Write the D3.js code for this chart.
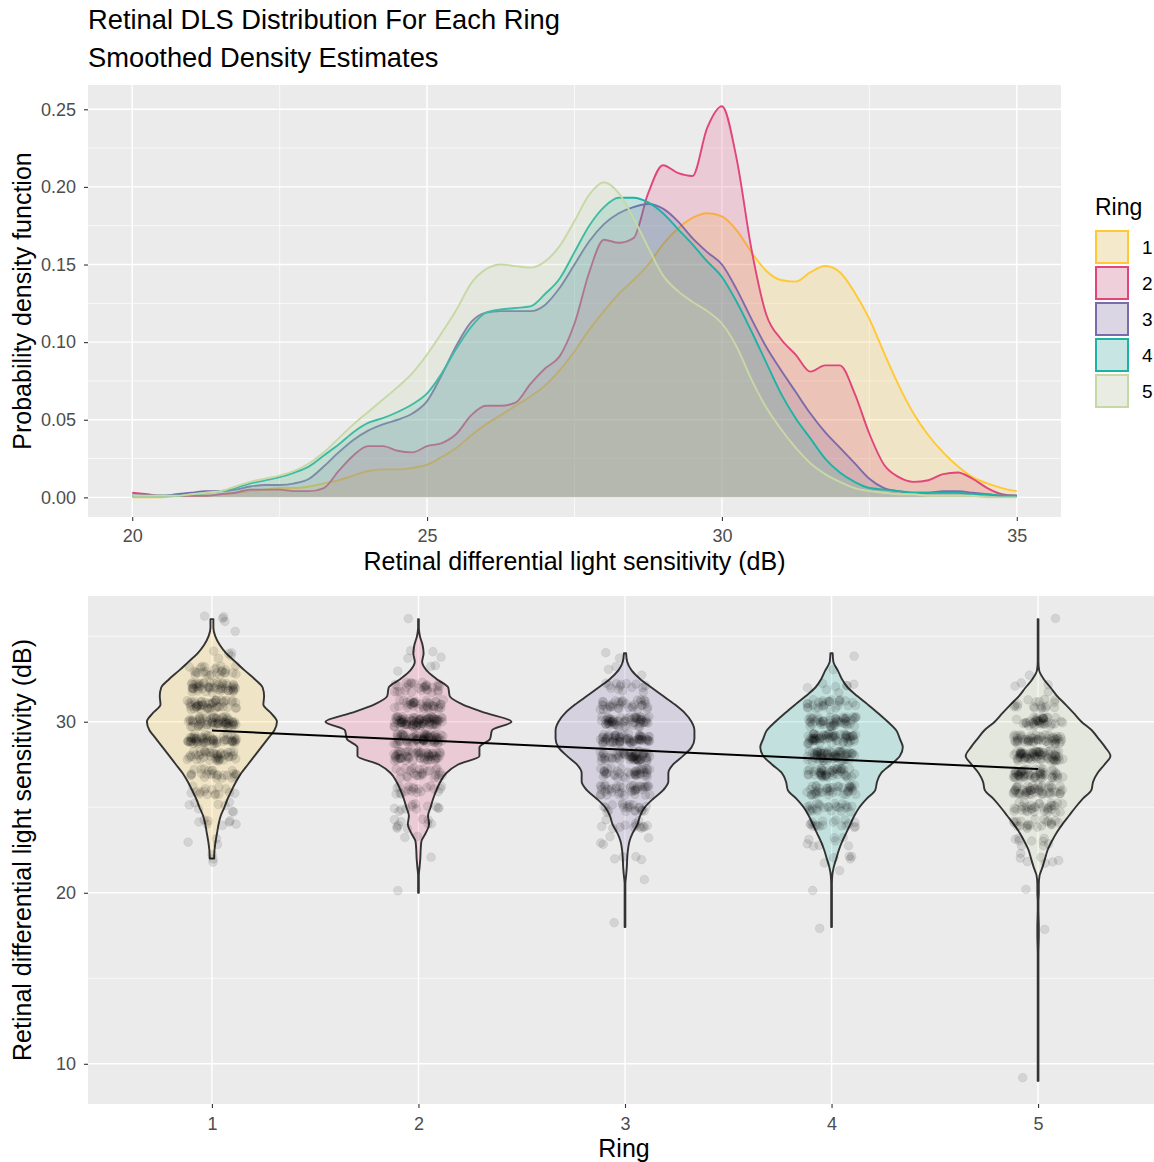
<!DOCTYPE html>
<html><head><meta charset="utf-8">
<script src="https://cdn.jsdelivr.net/npm/d3@7"></script>
<style>
html,body{margin:0;padding:0;background:#fff;}
svg text{font-family:"Liberation Sans",Arial,sans-serif;}
</style></head>
<body><svg id="chart" width="1154" height="1162"></svg>
<script>
// ---------------- DATA ----------------
const rings = [1, 2, 3, 4, 5];
const ringColors = ["#FFC933", "#E0457B", "#7C6BAA", "#1CB3A5", "#C6D9A5"];

// Top panel: smoothed density estimates per ring on a dB grid
const densityX = [20,20.25,20.5,20.75,21,21.25,21.5,21.75,22,22.25,22.5,22.75,23,23.25,23.5,23.75,24,24.25,24.5,24.75,
  25,25.25,25.5,25.75,26,26.25,26.5,26.75,27,27.25,27.5,27.75,28,28.25,28.5,28.75,29,29.25,29.5,29.75,
  30,30.25,30.5,30.75,31,31.25,31.5,31.75,32,32.25,32.5,32.75,33,33.25,33.5,33.75,34,34.25,34.5,34.75,35];
const density1 = [0.000,0.000,0.000,0.001,0.001,0.001,0.002,0.003,0.004,0.005,
  0.006,0.006,0.007,0.009,0.011,0.014,0.017,0.018,0.018,0.019,
  0.021,0.026,0.032,0.040,0.047,0.053,0.059,0.065,0.072,0.082,
  0.094,0.108,0.120,0.131,0.140,0.150,0.163,0.173,0.180,0.183,
  0.181,0.172,0.158,0.146,0.140,0.139,0.145,0.149,0.145,0.132,
  0.115,0.093,0.072,0.054,0.040,0.029,0.020,0.013,0.009,0.006,0.004];
const density2 = [0.003,0.002,0.001,0.001,0.001,0.001,0.002,0.003,0.005,0.005,
  0.005,0.004,0.004,0.006,0.017,0.027,0.033,0.033,0.030,0.029,
  0.033,0.035,0.041,0.053,0.059,0.059,0.061,0.073,0.083,0.091,
  0.112,0.145,0.166,0.164,0.167,0.196,0.214,0.209,0.207,0.238,
  0.252,0.218,0.160,0.118,0.102,0.092,0.081,0.085,0.085,0.067,
  0.041,0.021,0.013,0.010,0.011,0.015,0.016,0.012,0.006,0.002,0.001];
const density3 = [0.001,0.001,0.001,0.002,0.003,0.004,0.004,0.005,0.007,0.008,
  0.008,0.009,0.012,0.020,0.029,0.037,0.043,0.047,0.050,0.054,
  0.062,0.079,0.098,0.113,0.119,0.120,0.120,0.120,0.124,0.135,
  0.150,0.165,0.176,0.183,0.187,0.189,0.186,0.178,0.167,0.158,
  0.150,0.134,0.115,0.097,0.082,0.068,0.054,0.042,0.032,0.022,
  0.012,0.006,0.004,0.003,0.003,0.004,0.004,0.003,0.002,0.001,0.001];
const density4 = [0.001,0.001,0.001,0.001,0.002,0.003,0.004,0.006,0.009,0.011,
  0.013,0.016,0.020,0.027,0.034,0.042,0.048,0.051,0.055,0.060,
  0.067,0.080,0.096,0.110,0.119,0.121,0.122,0.123,0.131,0.141,
  0.158,0.175,0.187,0.193,0.193,0.190,0.183,0.173,0.163,0.152,
  0.142,0.126,0.107,0.087,0.067,0.051,0.038,0.025,0.016,0.010,
  0.006,0.005,0.004,0.003,0.003,0.003,0.003,0.002,0.002,0.001,0.001];
const density5 = [0.001,0.001,0.001,0.001,0.002,0.003,0.004,0.007,0.010,0.012,
  0.014,0.017,0.022,0.029,0.038,0.047,0.055,0.063,0.071,0.080,
  0.092,0.106,0.121,0.138,0.147,0.150,0.149,0.148,0.152,0.162,
  0.178,0.195,0.203,0.196,0.180,0.161,0.143,0.133,0.126,0.120,
  0.112,0.097,0.076,0.058,0.044,0.032,0.022,0.015,0.010,0.006,
  0.004,0.003,0.002,0.002,0.001,0.001,0.001,0.001,0.000,0.000,0.000];
const densities = [density1, density2, density3, density4, density5];

const densityXTicks = [20, 25, 30, 35];
const densityYTicks = [0.00, 0.05, 0.10, 0.15, 0.20, 0.25];

// Bottom panel: violin profiles (density per dB level, trimmed to each ring's range)
const violinGrid = [9,9.5,10,10.5,11,11.5,12,12.5,13,13.5,14,14.5,15,15.5,16,16.5,17,17.5,18,18.5,19,19.5,
  20,20.5,21,21.5,22,22.5,23,23.5,24,24.5,25,25.5,26,26.5,27,27.5,28,28.5,29,29.5,
  30,30.5,31,31.5,32,32.5,33,33.5,34,34.5,35,35.5,36];
const violinStart = [22, 20, 18, 18, 9];
const violin1 = [0.006,0.007,0.010,0.014,0.018,0.024,0.034,0.043,0.054,0.066,0.080,0.098,0.116,0.134,
  0.152,0.170,0.177,0.161,0.140,0.142,0.138,0.116,0.089,0.064,0.039,0.021,0.009,0.004,0.004];
const violin2 = [0.001,0.001,0.001,0.003,0.005,0.006,0.008,0.020,0.029,0.026,0.033,0.040,0.049,0.060,
  0.076,0.108,0.166,0.166,0.195,0.200,0.253,0.185,0.121,0.085,0.081,0.049,0.022,0.010,0.014,0.011,
  0.004,0.001,0.001];
const violin3 = [0.001,0.001,0.001,0.001,0.001,0.001,0.003,0.005,0.006,0.008,0.012,0.021,0.034,0.041,
  0.054,0.077,0.104,0.118,0.118,0.131,0.158,0.181,0.189,0.189,0.181,0.163,0.136,0.104,0.072,0.041,
  0.018,0.006,0.003];
const violin4 = [0.001,0.001,0.001,0.001,0.001,0.001,0.002,0.006,0.013,0.020,0.029,0.040,0.051,0.062,
  0.076,0.096,0.119,0.124,0.135,0.162,0.186,0.194,0.186,0.176,0.153,0.127,0.099,0.070,0.044,0.028,
  0.017,0.005,0.003];
const violin5 = [0.001,0.001,0.001,0.001,0.001,0.001,0.001,0.001,0.001,0.001,0.001,0.001,0.001,0.001,0.001,0.001,
  0.0015,0.002,0.002,0.0015,0.001,0.001,0.002,0.002,
  0.004,0.012,0.019,0.026,0.037,0.050,0.066,0.084,0.102,0.122,0.145,0.150,0.162,0.181,0.197,0.183,
  0.165,0.146,0.118,0.097,0.075,0.052,0.034,0.015,0.003,0.001,0.001,0.001,0.001,0.001,0.001];
const violins = [violin1, violin2, violin3, violin4, violin5];

// Observations: number of test points at each DLS level per ring
const dlsLevels = [9,10,11,12,13,14,15,16,17,18,19,20,21,22,23,24,25,26,27,28,29,30,31,32,33,34,35,36];
const ring1Counts = [0,0,0,0,0,0,0,0,0,0,0,0,0,3,3,8,8,16,26,44,60,66,50,52,26,5,1,4];
const ring2Counts = [0,0,0,0,0,0,0,0,0,0,0,1,0,1,2,10,12,20,28,60,76,90,40,30,3,4,0,1];
const ring3Counts = [0,0,0,0,0,0,0,0,0,1,0,0,1,4,4,14,22,42,42,64,68,60,36,14,3,2,0,0];
const ring4Counts = [0,0,0,0,0,0,0,0,0,1,0,1,1,5,8,18,26,42,48,68,66,52,28,8,1,1,0,0];
const ring5Counts = [1,0,0,0,0,0,0,0,0,1,0,1,0,7,9,22,34,52,56,74,54,40,18,4,1,0,0,1];
const ringCounts = [ring1Counts, ring2Counts, ring3Counts, ring4Counts, ring5Counts];

// Linear trend (fitted DLS at the first and last ring)
const trendRings = [1, 5];
const trendValues = [29.49, 27.24];

const violinYTicks = [10, 20, 30];

// ---------------- LAYOUT ----------------
const svg = d3.select("#chart");
const FONT = '"Liberation Sans",Arial,sans-serif';
const tickCol = "#4D4D4D", tickLineCol = "#333333";
const panelBg = "#EBEBEB";

svg.append("text").attr("x", 88).attr("y", 29).attr("font-size", 27.3).attr("fill", "#000")
  .text("Retinal DLS Distribution For Each Ring");
svg.append("text").attr("x", 88).attr("y", 67).attr("font-size", 27.3).attr("fill", "#000")
  .text("Smoothed Density Estimates");

// ---------- Top panel ----------
const T = {l: 88, r: 1061, t: 85, b: 517};
const xT = d3.scaleLinear().domain([19.25, 35.75]).range([T.l, T.r]);
const yT = d3.scaleLinear().domain([-0.01265, 0.26565]).range([T.b, T.t]);

const gT = svg.append("g");
gT.append("rect").attr("x", T.l).attr("y", T.t).attr("width", T.r - T.l).attr("height", T.b - T.t).attr("fill", panelBg);
svg.append("clipPath").attr("id", "clipT").append("rect")
  .attr("x", T.l).attr("y", T.t).attr("width", T.r - T.l).attr("height", T.b - T.t);

const minorYT = [0.025, 0.075, 0.125, 0.175, 0.225];
const minorXT = [22.5, 27.5, 32.5];
gT.selectAll(".mny").data(minorYT).join("line").attr("x1", T.l).attr("x2", T.r)
  .attr("y1", d => yT(d)).attr("y2", d => yT(d)).attr("stroke", "#fff").attr("stroke-width", 0.7);
gT.selectAll(".mnx").data(minorXT).join("line").attr("y1", T.t).attr("y2", T.b)
  .attr("x1", d => xT(d)).attr("x2", d => xT(d)).attr("stroke", "#fff").attr("stroke-width", 0.7);
gT.selectAll(".mjy").data(densityYTicks).join("line").attr("x1", T.l).attr("x2", T.r)
  .attr("y1", d => yT(d)).attr("y2", d => yT(d)).attr("stroke", "#fff").attr("stroke-width", 1.4);
gT.selectAll(".mjx").data(densityXTicks).join("line").attr("y1", T.t).attr("y2", T.b)
  .attr("x1", d => xT(d)).attr("x2", d => xT(d)).attr("stroke", "#fff").attr("stroke-width", 1.4);

const dPlot = gT.append("g").attr("clip-path", "url(#clipT)");
const areaT = d3.area().x(d => xT(d[0])).y0(yT(0)).y1(d => yT(d[1])).curve(d3.curveMonotoneX);
const lineT = d3.line().x(d => xT(d[0])).y(d => yT(d[1])).curve(d3.curveMonotoneX);
densities.forEach((arr, i) => {
  const pts = densityX.map((x, j) => [x, arr[j]]);
  dPlot.append("path").attr("d", areaT(pts)).attr("fill", ringColors[i]).attr("fill-opacity", 0.2);
  dPlot.append("path").attr("d", lineT(pts)).attr("fill", "none").attr("stroke", ringColors[i])
    .attr("stroke-width", 1.9);
});

const axT = svg.append("g").attr("transform", `translate(0,${T.b})`).call(
  d3.axisBottom(xT).tickValues(densityXTicks).tickFormat(d3.format("d")).tickSize(4).tickPadding(8));
const ayT = svg.append("g").attr("transform", `translate(${T.l},0)`).call(
  d3.axisLeft(yT).tickValues(densityYTicks).tickFormat(d3.format(".2f")).tickSize(4).tickPadding(8));
[axT, ayT].forEach(a => {
  a.select(".domain").remove();
  a.selectAll(".tick line").attr("stroke", tickLineCol).attr("stroke-width", 1.1);
  a.selectAll(".tick text").attr("fill", tickCol).attr("font-size", 18).attr("font-family", FONT);
});

svg.append("text").attr("x", (T.l + T.r) / 2).attr("y", 570).attr("text-anchor", "middle")
  .attr("font-size", 25).text("Retinal differential light sensitivity (dB)");
svg.append("text").attr("transform", `translate(31,${(T.t + T.b) / 2}) rotate(-90)`)
  .attr("text-anchor", "middle").attr("font-size", 25).text("Probability density function");

// legend
const lg = svg.append("g");
lg.append("text").attr("x", 1095).attr("y", 215).attr("font-size", 23).text("Ring");
rings.forEach((r, i) => {
  const ky = 230 + i * 36;
  lg.append("rect").attr("x", 1095).attr("y", ky).attr("width", 34).attr("height", 34).attr("fill", "#F2F2F2");
  lg.append("rect").attr("x", 1096).attr("y", ky + 1).attr("width", 32).attr("height", 32)
    .attr("fill", ringColors[i]).attr("fill-opacity", 0.2)
    .attr("stroke", ringColors[i]).attr("stroke-width", 2);
  lg.append("text").attr("x", 1142).attr("y", ky + 17).attr("dy", "0.35em").attr("font-size", 19).text(r);
});

// ---------- Bottom panel ----------
const B = {l: 88, r: 1162, t: 596, b: 1104};
const xB = d3.scalePoint().domain(rings).range([B.l, B.r]).padding(0.6);
const yB = d3.scaleLinear().domain([7.65, 37.35]).range([B.b, B.t]);
const step = xB.step();

const gB = svg.append("g");
gB.append("rect").attr("x", B.l).attr("y", B.t).attr("width", B.r - B.l).attr("height", B.b - B.t).attr("fill", panelBg);
svg.append("clipPath").attr("id", "clipB").append("rect")
  .attr("x", B.l).attr("y", B.t).attr("width", B.r - B.l).attr("height", B.b - B.t);
const minorYB = [15, 25, 35];
gB.selectAll(".mny").data(minorYB).join("line").attr("x1", B.l).attr("x2", B.r)
  .attr("y1", d => yB(d)).attr("y2", d => yB(d)).attr("stroke", "#fff").attr("stroke-width", 0.7);
gB.selectAll(".mjy").data(violinYTicks).join("line").attr("x1", B.l).attr("x2", B.r)
  .attr("y1", d => yB(d)).attr("y2", d => yB(d)).attr("stroke", "#fff").attr("stroke-width", 1.4);
gB.selectAll(".mjx").data(rings).join("line").attr("y1", B.t).attr("y2", B.b)
  .attr("x1", d => xB(d)).attr("x2", d => xB(d)).attr("stroke", "#fff").attr("stroke-width", 1.4);

const vPlot = gB.append("g").attr("clip-path", "url(#clipB)");
const maxViolin = d3.max(violins, v => d3.max(v));
const wScale = d3.scaleLinear().domain([0, maxViolin]).range([0, 0.45 * step]);

violins.forEach((arr, i) => {
  const start = violinGrid.indexOf(violinStart[i]);
  const pts = arr.map((d, j) => [violinGrid[start + j], d]);
  const cx = xB(rings[i]);
  const area = d3.area().y(d => yB(d[0])).x0(d => cx - wScale(d[1])).x1(d => cx + wScale(d[1]))
    .curve(d3.curveMonotoneY);
  vPlot.append("path").attr("d", area(pts)).attr("fill", ringColors[i]).attr("fill-opacity", 0.2)
    .attr("stroke", "#333333").attr("stroke-width", 1.9).attr("stroke-linejoin", "round");
});

// jittered observations (deterministic hash-based jitter, positions only)
const hash = n => { const s = Math.sin(n * 12.9898 + 78.233) * 43758.5453; return s - Math.floor(s); };
ringCounts.forEach((counts, i) => {
  let n = i * 1009 + 7;
  const pts = [];
  counts.forEach((c, k) => {
    for (let m = 0; m < c; m++) {
      const jx = (hash(n) - 0.5) * 2 * 0.12 * step;
      const jy = (hash(n + 50000) - 0.5) * 2 * 0.3;
      pts.push([xB(rings[i]) + jx, yB(dlsLevels[k] + jy)]);
      n++;
    }
  });
  vPlot.selectAll(null).data(pts).join("circle")
    .attr("cx", d => d[0]).attr("cy", d => d[1]).attr("r", 4.4)
    .attr("fill", "#000").attr("fill-opacity", 0.1)
    .attr("stroke", "#000").attr("stroke-opacity", 0.07).attr("stroke-width", 0.8);
});

// linear trend
vPlot.append("line")
  .attr("x1", xB(trendRings[0])).attr("y1", yB(trendValues[0]))
  .attr("x2", xB(trendRings[1])).attr("y2", yB(trendValues[1]))
  .attr("stroke", "#000").attr("stroke-width", 2);

const axB = svg.append("g").attr("transform", `translate(0,${B.b})`).call(
  d3.axisBottom(xB).tickSize(4).tickPadding(9));
const ayB = svg.append("g").attr("transform", `translate(${B.l},0)`).call(
  d3.axisLeft(yB).tickValues(violinYTicks).tickSize(4).tickPadding(8));
[axB, ayB].forEach(a => {
  a.select(".domain").remove();
  a.selectAll(".tick line").attr("stroke", tickLineCol).attr("stroke-width", 1.1);
  a.selectAll(".tick text").attr("fill", tickCol).attr("font-size", 18).attr("font-family", FONT);
});
svg.append("text").attr("x", (B.l + 1160) / 2).attr("y", 1157).attr("text-anchor", "middle")
  .attr("font-size", 25).text("Ring");
svg.append("text").attr("transform", `translate(31,${(B.t + B.b) / 2}) rotate(-90)`)
  .attr("text-anchor", "middle").attr("font-size", 25).text("Retinal differential light sensitivity (dB)");
</script></body></html>
